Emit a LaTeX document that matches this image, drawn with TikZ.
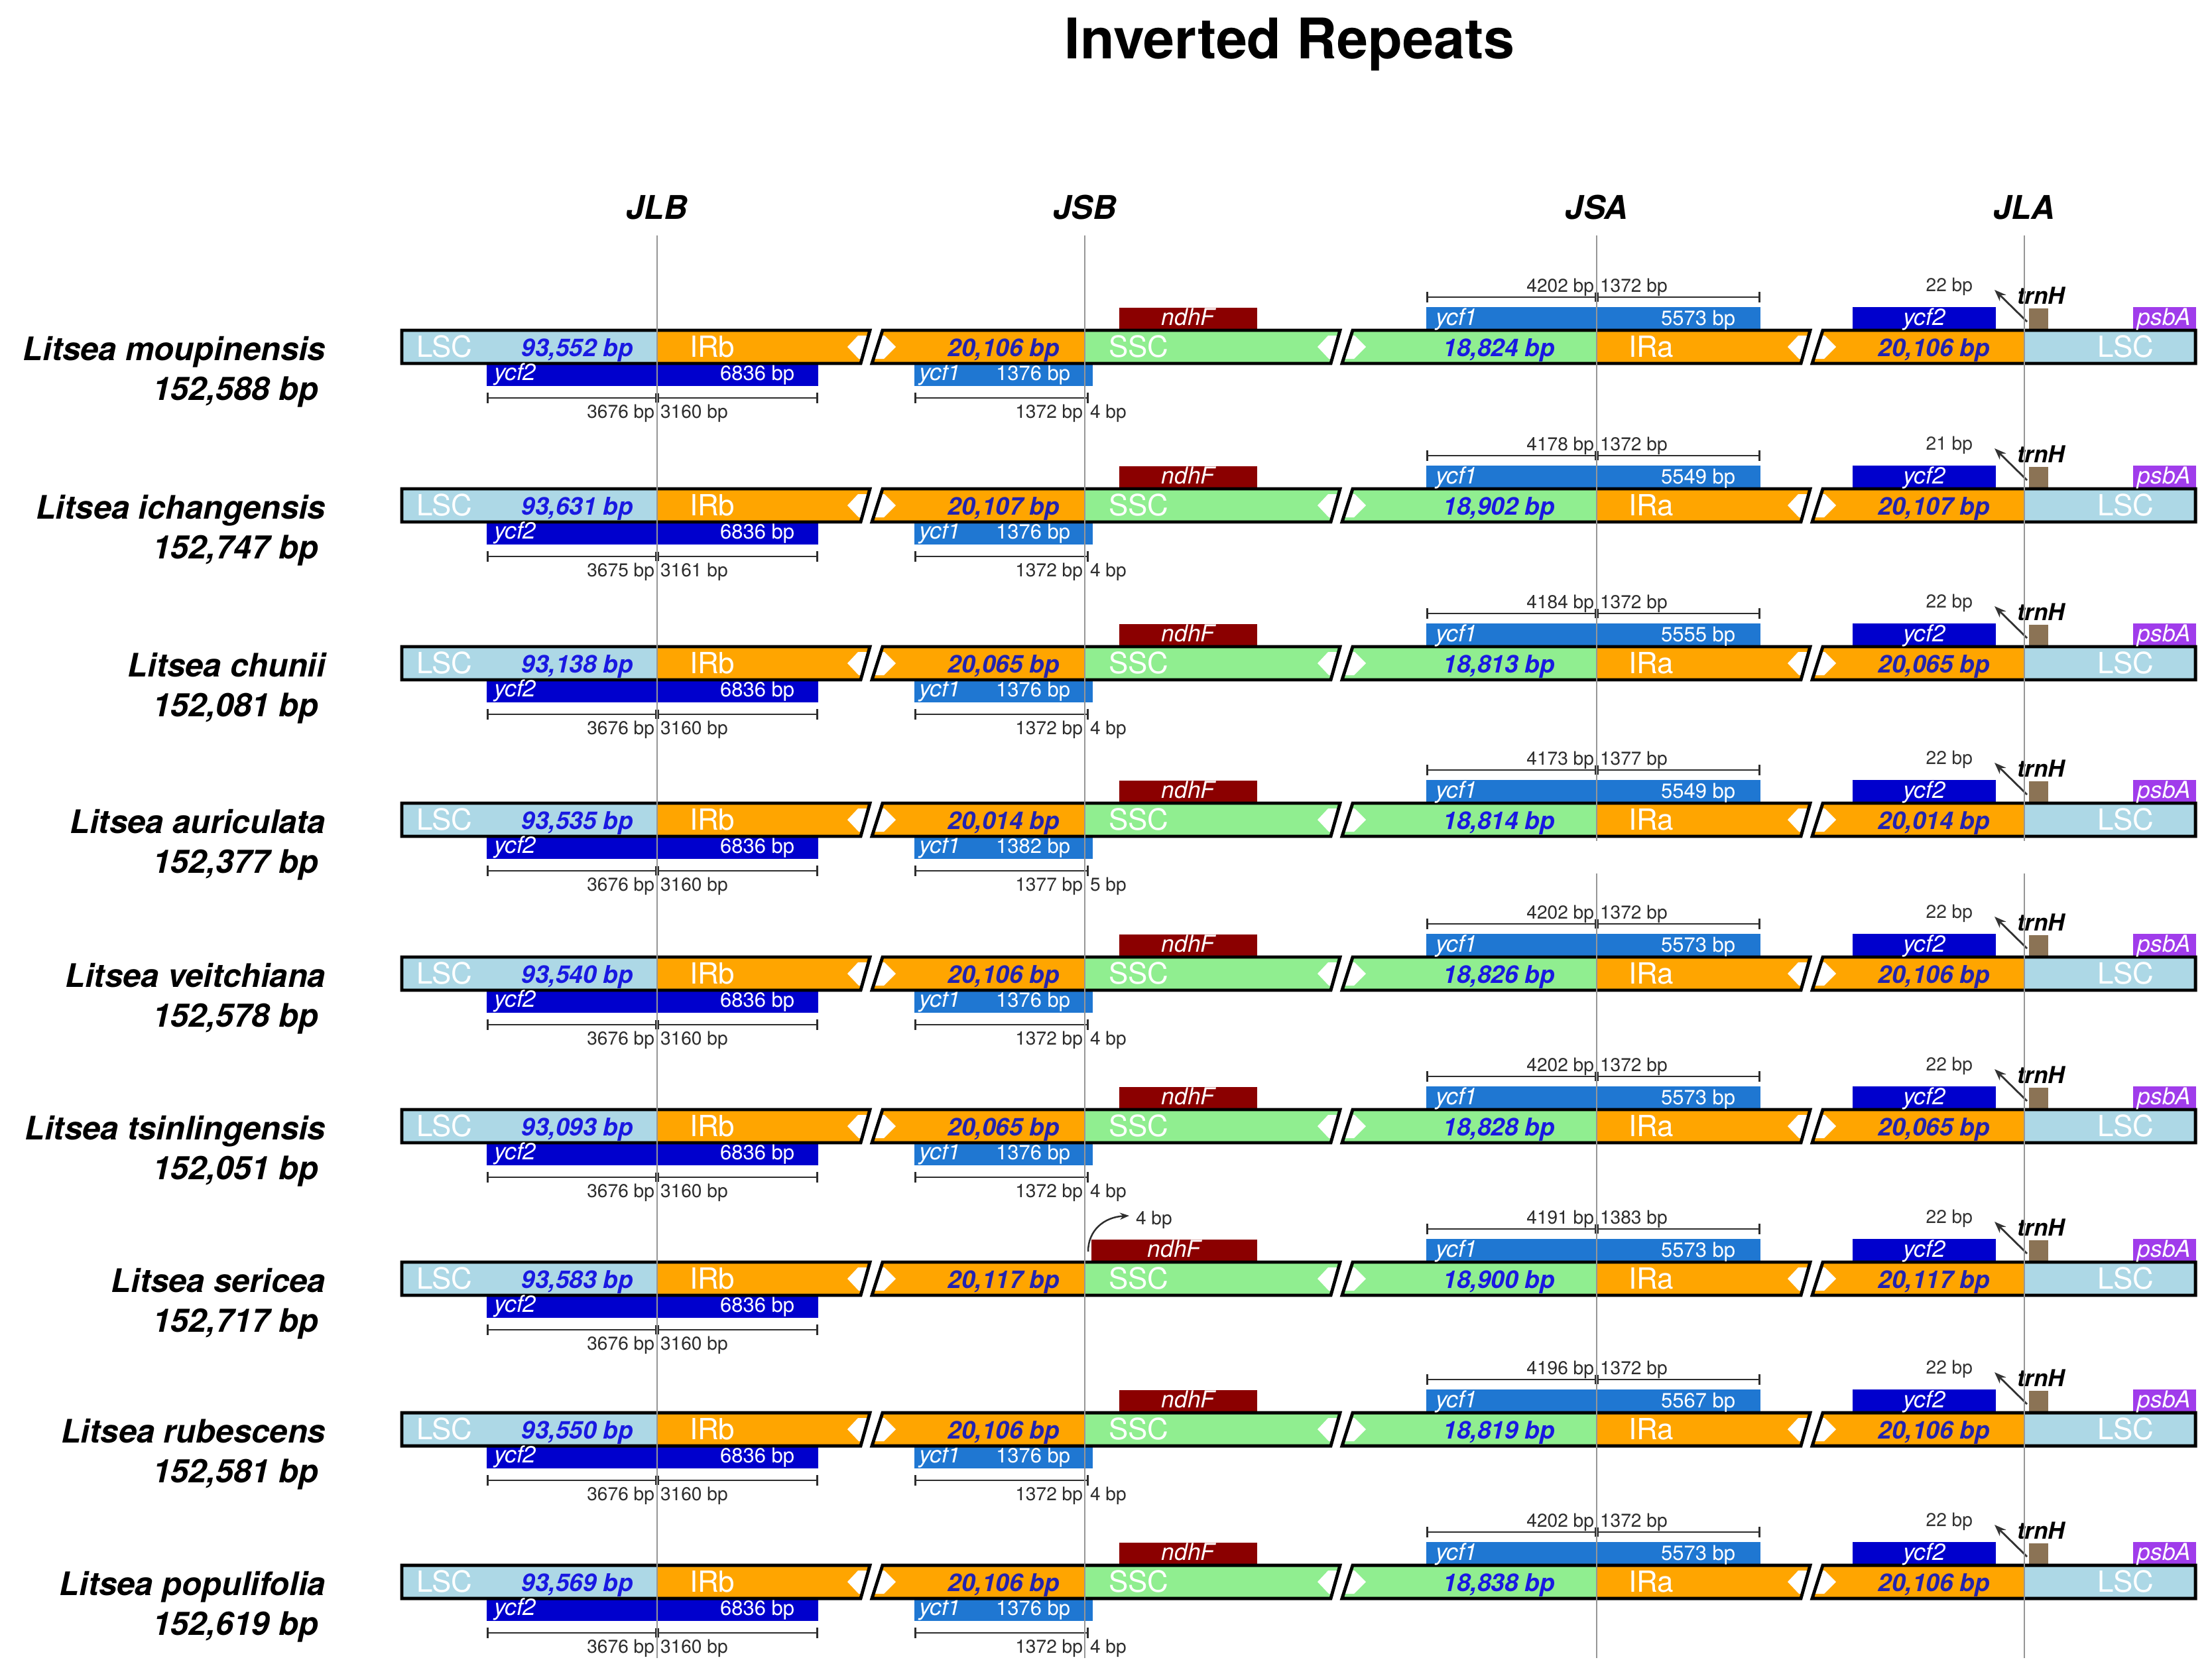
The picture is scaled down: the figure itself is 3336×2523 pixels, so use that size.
\documentclass[tikz,border=0pt]{standalone}
\usepackage{fontspec}
\setmainfont{TeX Gyre Heros}
\usetikzlibrary{arrows.meta, calc, positioning}
\definecolor{lscblue}{RGB}{173,216,230}
\definecolor{irorange}{RGB}{255,165,0}
\definecolor{sscgreen}{RGB}{144,238,144}
\definecolor{ycftwo}{RGB}{0,0,205}
\definecolor{ycfone}{RGB}{31,119,210}
\definecolor{ndhfred}{RGB}{139,0,0}
\definecolor{trnhbrown}{RGB}{139,115,85}
\definecolor{psbapurple}{RGB}{160,60,235}
\definecolor{bpblue}{RGB}{25,25,225}
\definecolor{bpnavy}{RGB}{35,35,175}
\definecolor{junction}{RGB}{150,150,150}
\definecolor{scalegray}{RGB}{45,45,45}

\begin{document}
\begin{tikzpicture}[
  x=0.01cm, y=-0.01cm,
  every node/.style={inner sep=0pt, outer sep=0pt},
  spname/.style={font=\fontsize{13.9}{17}\selectfont\bfseries\itshape, anchor=base east},
  jname/.style={font=\fontsize{14}{17}\selectfont\bfseries\itshape, anchor=base},
  region/.style={font=\fontsize{12.5}{15}\selectfont, text=white, anchor=base west},
  regionbp/.style={font=\fontsize{10.5}{13}\selectfont\bfseries\itshape, anchor=base east},
  gene/.style={font=\fontsize{10}{12}\selectfont\itshape, text=white},
  genebp/.style={font=\fontsize{8.8}{10}\selectfont, text=white, anchor=base east},
  scalebp/.style={font=\fontsize{8}{9}\selectfont, text=scalegray},
  boxline/.style={draw=black, line width=1.4pt, line join=miter},
  scaletick/.style={draw=scalegray, line width=0.8pt},
  bpbar/.style={draw=scalegray, line width=0.8pt, {Bar[width=4.5pt]}-{Bar[width=4.5pt]}},
  jline/.style={draw=junction, line width=0.6pt}
]
  \fill[white] (0,0) rectangle (3336,2523);
  \useasboundingbox (0,0) rectangle (3336,2523);

  % Titolo e giunzioni
  \node[font=\fontsize{24}{28}\selectfont\bfseries, anchor=base] (title) at (1945,88) {Inverted Repeats};
  \node[jname] (JLB) at (991,330) {JLB};
  \node[jname] (JSB) at (1636,330) {JSB};
  \node[jname] (JSA) at (2408,330) {JSA};
  \node[jname] (JLA) at (3053,330) {JLA};

  % --- ycf1 sotto IRb (manca in L. sericea) ---
  \foreach \rowy/\la/\lb/\lc [count=\i] in {523/1372/4/1376, 762/1372/4/1376,
      1000/1372/4/1376, 1236/1377/5/1382, 1468/1372/4/1376, 1698/1372/4/1376,
      2155/1372/4/1376, 2385/1372/4/1376}{
    \fill[ycfone] (1379,\rowy+24) rectangle (1648,\rowy+59);
    \node[gene, anchor=base west] (ycfC\i) at (1386,\rowy+50) {ycf1};
    \node[genebp] (ycfCbp\i) at (1614,\rowy+50) {\lc\ bp};
    \draw[bpbar] (1379,\rowy+77) -- (1642,\rowy+77);
    \draw[scaletick] (1636,\rowy+70) -- (1636,\rowy+84);
    \node[scalebp, anchor=base east] (ycfCl\i) at (1633,\rowy+107) {\la\ bp};
    \node[scalebp, anchor=base west] (ycfCr\i) at (1644,\rowy+107) {\lb\ bp};
  }

  % --- una riga per specie ---
  \foreach \rowy/\nm/\tot/\lsc/\ir/\ssc/\ya/\yb/\ua/\ub/\uc/\tr/\nx [count=\i] in {
      523/moupinensis/{152,588}/{93,552}/{20,106}/{18,824}/3676/3160/4202/1372/5573/22/1688,
      762/ichangensis/{152,747}/{93,631}/{20,107}/{18,902}/3675/3161/4178/1372/5549/21/1688,
      1000/chunii/{152,081}/{93,138}/{20,065}/{18,813}/3676/3160/4184/1372/5555/22/1688,
      1236/auriculata/{152,377}/{93,535}/{20,014}/{18,814}/3676/3160/4173/1377/5549/22/1688,
      1468/veitchiana/{152,578}/{93,540}/{20,106}/{18,826}/3676/3160/4202/1372/5573/22/1688,
      1698/tsinlingensis/{152,051}/{93,093}/{20,065}/{18,828}/3676/3160/4202/1372/5573/22/1688,
      1928/sericea/{152,717}/{93,583}/{20,117}/{18,900}/3676/3160/4191/1383/5573/22/1646,
      2155/rubescens/{152,581}/{93,550}/{20,106}/{18,819}/3676/3160/4196/1372/5567/22/1688,
      2385/populifolia/{152,619}/{93,569}/{20,106}/{18,838}/3676/3160/4202/1372/5573/22/1688}{
    % geni
    \fill[ycftwo] (734,\rowy+24) rectangle (1234,\rowy+59);
    \fill[ycfone] (2151,\rowy-60) rectangle (2655,\rowy-24);
    \fill[ndhfred] (\nx,\rowy-59) rectangle (1896,\rowy-24);
    \fill[ycftwo] (2794,\rowy-60) rectangle (3010,\rowy-24);
    \fill[trnhbrown] (3060,\rowy-58) rectangle (3089,\rowy-24);
    \fill[psbapurple] (3217,\rowy-60) rectangle (3312,\rowy-24);
    % regioni
    \fill[lscblue] (606,\rowy-25) rectangle (991,\rowy+25);
    \fill[irorange] (991,\rowy-25) -- (1312,\rowy-25) -- (1298,\rowy+25) -- (991,\rowy+25) -- cycle;
    \fill[irorange] (1331,\rowy-25) -- (1636,\rowy-25) -- (1636,\rowy+25) -- (1315,\rowy+25) -- cycle;
    \fill[sscgreen] (1636,\rowy-25) -- (2021,\rowy-25) -- (2007,\rowy+25) -- (1636,\rowy+25) -- cycle;
    \fill[sscgreen] (2040,\rowy-25) -- (2408,\rowy-25) -- (2408,\rowy+25) -- (2024,\rowy+25) -- cycle;
    \fill[irorange] (2408,\rowy-25) -- (2730,\rowy-25) -- (2716,\rowy+25) -- (2408,\rowy+25) -- cycle;
    \fill[irorange] (2749,\rowy-25) -- (3053,\rowy-25) -- (3053,\rowy+25) -- (2733,\rowy+25) -- cycle;
    \fill[lscblue] (3053,\rowy-25) rectangle (3311,\rowy+25);
    \foreach \m in {1314,2023,2732}{
      \fill[white] (\m-36,\rowy) -- (\m-20,\rowy-17) -- (\m+20,\rowy-17) -- (\m+37,\rowy)
        -- (\m+19,\rowy+18) -- (\m-19,\rowy+18) -- cycle;
    }
    \draw[boxline] (606,\rowy-25) -- (1312,\rowy-25) -- (1298,\rowy+25) -- (606,\rowy+25) -- cycle;
    \draw[boxline] (1331,\rowy-25) -- (2021,\rowy-25) -- (2007,\rowy+25) -- (1315,\rowy+25) -- cycle;
    \draw[boxline] (2040,\rowy-25) -- (2730,\rowy-25) -- (2716,\rowy+25) -- (2024,\rowy+25) -- cycle;
    \draw[boxline] (2749,\rowy-25) -- (3311,\rowy-25) -- (3311,\rowy+25) -- (2733,\rowy+25) -- cycle;
    % nomi
    \node[spname] (sp\i) at (491,\rowy+20) {Litsea \nm};
    \node[spname] (len\i) at (480,\rowy+80) {\tot\ bp};
    \node[region] (lscA\i) at (628,\rowy+15) {LSC};
    \node[regionbp, text=bpblue] (lscbp\i) at (955,\rowy+14) {\lsc\ bp};
    \node[region] (irb\i) at (1040,\rowy+15) {IRb};
    \node[regionbp, text=bpnavy] (irbbp\i) at (1598,\rowy+14) {\ir\ bp};
    \node[region] (ssc\i) at (1672,\rowy+15) {SSC};
    \node[regionbp, text=bpblue] (sscbp\i) at (2345,\rowy+14) {\ssc\ bp};
    \node[region] (ira\i) at (2456,\rowy+15) {IRa};
    \node[regionbp, text=bpnavy] (irabp\i) at (3001,\rowy+14) {\ir\ bp};
    \node[region, anchor=base] (lscB\i) at (3206,\rowy+15) {LSC};
    % etichette dei geni
    \node[gene, anchor=base west] (ycfB\i) at (745,\rowy+50) {ycf2};
    \node[genebp] (ycfBbp\i) at (1198,\rowy+50) {6836 bp};
    \node[gene, anchor=base west] (ycfA\i) at (2165,\rowy-33) {ycf1};
    \node[genebp] (ycfAbp\i) at (2617,\rowy-33) {\uc\ bp};
    \node[gene, anchor=base] (ndhf\i) at ({(\nx+1896)/2},\rowy-33) {ndhF};
    \node[gene, anchor=base] (ycfD\i) at (2902,\rowy-33) {ycf2};
    \node[gene, anchor=base] (psba\i) at (3264,\rowy-33) {psbA};
    % scale
    \draw[bpbar] (734,\rowy+77) -- (1234,\rowy+77);
    \draw[scaletick] (989,\rowy+70) -- (989,\rowy+84) (993,\rowy+70) -- (993,\rowy+84);
    \node[scalebp, anchor=base east] (ycfBl\i) at (987,\rowy+107) {\ya\ bp};
    \node[scalebp, anchor=base west] (ycfBr\i) at (996,\rowy+107) {\yb\ bp};
    \draw[bpbar] (2151,\rowy-75) -- (2655,\rowy-75);
    \draw[scaletick] (2406,\rowy-82) -- (2406,\rowy-68) (2410,\rowy-82) -- (2410,\rowy-68);
    \node[scalebp, anchor=base east] (ycfAl\i) at (2404,\rowy-83) {\ua\ bp};
    \node[scalebp, anchor=base west] (ycfAr\i) at (2413,\rowy-83) {\ub\ bp};
    % trnH
    \coordinate (trnfoot\i) at (3057,\rowy-38);
    \coordinate (trntip\i) at (3008,\rowy-86);
    \draw[-{Stealth[length=5pt]}, line width=0.8pt, black!80] (trnfoot\i) -- (trntip\i);
    \node[scalebp, text=black!80, anchor=base east] (trnbp\i) at (2975,\rowy-84) {\tr\ bp};
    \node[font=\fontsize{10}{12}\selectfont\bfseries\itshape, anchor=base west] (trn\i) at (3042,\rowy-65) {trnH};
  }

  % ndhF di L. sericea: 4 bp in IRb
  \coordinate (sfoot) at (1641,1887);
  \coordinate (stip) at (1703,1833);
  \draw[-{Stealth[length=4pt]}, line width=0.7pt, scalegray] (sfoot) .. controls (1641,1855) and (1665,1835) .. (stip);
  \node[scalebp, anchor=base west] (sbp) at (1713,1846) {4 bp};

  % linee di giunzione
  \draw[jline] (991,355) -- (991,2500);
  \draw[jline] (1636,355) -- (1636,2500);
  \draw[jline] (2408,355) -- (2408,1268) (2408,1317) -- (2408,2500);
  \draw[jline] (3053,355) -- (3053,1268) (3053,1317) -- (3053,2500);
\end{tikzpicture}
\end{document}
